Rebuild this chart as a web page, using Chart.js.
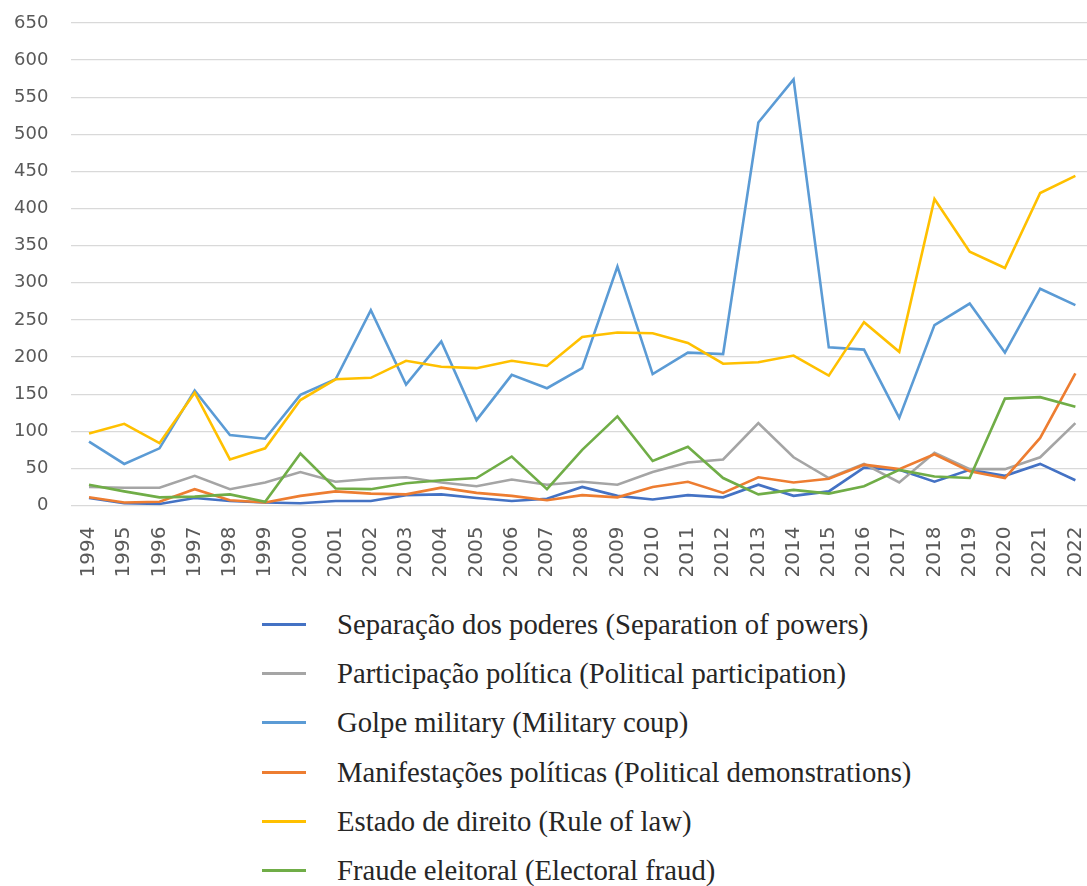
<!DOCTYPE html>
<html>
<head>
<meta charset="utf-8">
<script src="https://cdn.jsdelivr.net/npm/chart.js@4.4.0/dist/chart.umd.min.js"></script>
<style>
  html, body { margin: 0; padding: 0; background: #fff; width: 1087px; height: 886px; overflow: hidden; }
  #wrap { position: relative; width: 1093px; }
  canvas { display: block; }
  #legend { margin: 24px 0 0 262px; padding: 0; list-style: none; font-family: "Liberation Serif", "DejaVu Serif", serif; font-size: 28.7px; color: #262626; }
  #legend li { height: 49.2px; display: flex; align-items: center; white-space: nowrap; }
  #legend .sw { display: inline-block; width: 44px; height: 3px; margin-right: 31px; }
</style>
</head>
<body>
<div id="wrap">
  <canvas id="c" width="1093" height="576"></canvas>
  <ul id="legend"></ul>
</div>
<script>
const years = ["1994","1995","1996","1997","1998","1999","2000","2001","2002","2003","2004","2005","2006","2007","2008","2009","2010","2011","2012","2013","2014","2015","2016","2017","2018","2019","2020","2021","2022"];
const yTicks = [0,50,100,150,200,250,300,350,400,450,500,550,600,650];

const seriesNames = [
  "Separação dos poderes (Separation of powers)",
  "Participação política (Political participation)",
  "Golpe military (Military coup)",
  "Manifestações políticas (Political demonstrations)",
  "Estado de direito (Rule of law)",
  "Fraude eleitoral (Electoral fraud)"
];

const separacao     = [10,3,2,10,6,4,3,6,6,14,15,10,6,9,25,13,8,14,11,28,13,19,51,48,32,48,40,56,34];
const participacao  = [25,24,24,40,22,31,45,32,36,38,31,26,35,28,32,28,45,58,62,111,65,37,56,31,71,49,49,65,111];
const golpe         = [86,56,77,155,95,90,149,170,263,163,221,115,176,158,185,322,177,206,204,516,574,213,210,118,243,272,206,292,270];
const manifestacoes = [11,4,5,22,7,4,13,19,16,15,24,17,13,7,14,11,25,32,17,38,31,36,55,49,69,46,37,91,178];
const estado        = [97,110,84,152,62,77,142,170,172,195,187,185,195,188,227,233,232,219,191,193,202,175,247,207,413,342,320,421,444];
const fraude        = [28,19,11,12,15,5,70,23,22,30,34,37,66,22,75,120,60,79,37,15,21,16,26,48,39,37,144,146,133];

const seriesValues = [separacao, participacao, golpe, manifestacoes, estado, fraude];
const colors = ["#4472C4", "#A5A5A5", "#5B9BD5", "#ED7D31", "#FFC000", "#70AD47"];

const datasets = seriesValues.map((vals, i) => ({
  label: seriesNames[i],
  data: vals,
  borderColor: colors[i],
  backgroundColor: colors[i],
  borderWidth: 2.6,
  pointRadius: 0,
  pointHoverRadius: 0,
  tension: 0,
  fill: false,
  order: seriesValues.length - 1 - i
}));

new Chart(document.getElementById("c"), {
  type: "line",
  data: { labels: years, datasets },
  options: {
    responsive: false,
    animation: false,
    devicePixelRatio: 1,
    layout: { padding: { top: 23, right: 0, bottom: 0, left: 0 } },
    plugins: { legend: { display: false }, tooltip: { enabled: false } },
    scales: {
      x: {
        offset: true,
        grid: { display: false, drawTicks: true, tickLength: 21 },
        border: { display: false },
        ticks: {
          autoSkip: false,
          minRotation: 90,
          maxRotation: 90,
          padding: 0,
          color: "#595959",
          font: { family: "DejaVu Sans", size: 20, lineHeight: 0.8 }
        },
        afterFit(scale) { scale.height = 70.5; }
      },
      y: {
        min: 0,
        max: 650,
        afterBuildTicks(scale) { scale.ticks = yTicks.map(v => ({ value: v })); },
        grid: { color: "#D9D9D9", lineWidth: 1.3, drawTicks: true, tickLength: 20, tickColor: "rgba(0,0,0,0)" },
        border: { display: false },
        ticks: {
          padding: 3,
          color: "#595959",
          font: { family: "DejaVu Sans", size: 18 }
        },
        afterFit(scale) { scale.width = 71.4; }
      }
    }
  }
});

const legend = document.getElementById("legend");
seriesNames.forEach((name, i) => {
  const li = document.createElement("li");
  const sw = document.createElement("span");
  sw.className = "sw";
  sw.style.background = colors[i];
  li.appendChild(sw);
  li.appendChild(document.createTextNode(name));
  legend.appendChild(li);
});
</script>
</body>
</html>
